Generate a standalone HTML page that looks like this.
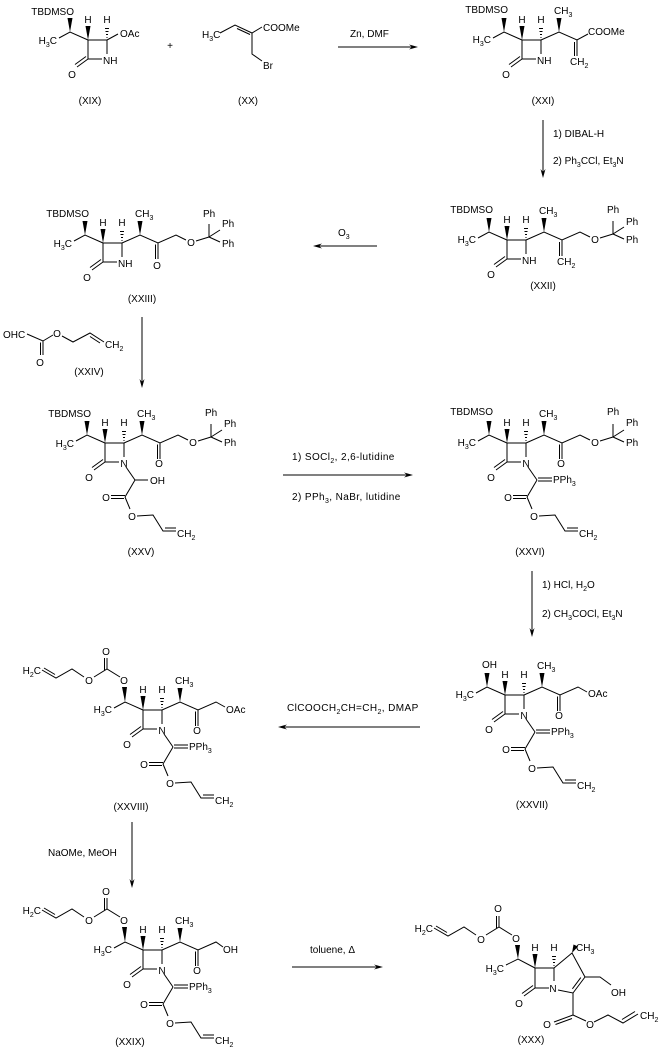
<!DOCTYPE html>
<html><head><meta charset="utf-8"><style>
html,body{margin:0;padding:0;background:#fff;}
svg{display:block;}
text{font-family:"Liberation Sans",Arial,sans-serif;font-size:10px;fill:#000;}
.s{font-size:7px;}
.w{letter-spacing:0.4px;}
path{stroke:#000;stroke-width:1;fill:none;}
polygon{fill:#000;stroke:none;}
</style></head><body>
<svg width="662" height="1052" viewBox="0 0 662 1052" xmlns="http://www.w3.org/2000/svg">

<!-- ===== XIX ===== -->
<g transform="translate(88,40)">
<path d="M0 0H19V14M14 19H0V0M0 19L-11 27M-2 16.5L-13 24.5M0 0L-18 -8L-29 -2M19 0L30 -6"/>
<path d="M18.5 -2.5H19.5M18 -5.5H20M17.5 -8.5H20.5M17 -11.5H21"/>
<polygon points="-18,-8 -20.5,-22 -15.5,-22"/>
<polygon points="0,0 -2.5,-14 2.5,-14"/>
<text x="-16" y="38" text-anchor="middle">O</text>
<text x="15" y="24">NH</text>
<text x="-14" y="-25" text-anchor="end">TBDMSO</text>
<text x="-31" y="4" text-anchor="end">H<tspan class="s" dy="3">3</tspan><tspan dy="-3">C</tspan></text>
<text x="0" y="-17" text-anchor="middle">H</text>
<text x="19" y="-17" text-anchor="middle">H</text>
<text x="32" y="-3">OAc</text>
</g>
<text x="90" y="104" text-anchor="middle">(XIX)</text>
<text x="170" y="49" text-anchor="middle">+</text>

<!-- ===== XX ===== -->
<path d="M220 33L235 25L252 33L262 27M237 28.5L250 34.5M252 33V54L262 61"/>
<text x="202" y="38">H<tspan class="s" dy="3">3</tspan><tspan dy="-3">C</tspan></text>
<text x="263" y="31">COOMe</text>
<text x="263" y="69">Br</text>
<text x="248" y="104" text-anchor="middle">(XX)</text>

<!-- arrow Zn DMF -->
<path d="M338 47H412"/>
<polygon points="418,47 409,44.5 412,47 409,49.5"/>
<text x="350" y="37">Zn, DMF</text>

<!-- ===== XXI ===== -->
<g transform="translate(522,40)">
<path d="M0 0H19V14M14 19H0V0M0 19L-11 27M-2 16.5L-13 24.5M0 0L-18 -8L-29 -2"/>
<path d="M18.5 -2.5H19.5M18 -5.5H20M17.5 -8.5H20.5M17 -11.5H21"/>
<path d="M19 0L37 -8L55 0L66 -6M55 0V16M52.5 2V16"/>
<polygon points="-18,-8 -20.5,-22 -15.5,-22"/>
<polygon points="0,0 -2.5,-14 2.5,-14"/>
<polygon points="37,-8 34.5,-22 39.5,-22"/>
<text x="-16" y="38" text-anchor="middle">O</text>
<text x="15" y="24">NH</text>
<text x="-14" y="-27" text-anchor="end">TBDMSO</text>
<text x="-31" y="3" text-anchor="end">H<tspan class="s" dy="3">3</tspan><tspan dy="-3">C</tspan></text>
<text x="0" y="-17" text-anchor="middle">H</text>
<text x="19" y="-17" text-anchor="middle">H</text>
<text x="32" y="-26">CH<tspan class="s" dy="3">3</tspan></text>
<text x="48" y="25">CH<tspan class="s" dy="3">2</tspan></text>
<text x="66" y="-5">COOMe</text>
</g>
<text x="543" y="104" text-anchor="middle">(XXI)</text>

<!-- arrow DIBAL -->
<path d="M543 120V172"/>
<polygon points="543,178 540.5,169 543,172 545.5,169"/>
<text x="553" y="137">1) DIBAL-H</text>
<text x="553" y="164">2) Ph<tspan class="s" dy="3">3</tspan><tspan dy="-3">CCl, Et</tspan><tspan class="s" dy="3">3</tspan><tspan dy="-3">N</tspan></text>

<!-- ===== XXII ===== -->
<g transform="translate(507,240)">
<path d="M0 0H19V14M14 19H0V0M0 19L-11 27M-2 16.5L-13 24.5M0 0L-18 -8L-29 -2"/>
<path d="M18.5 -2.5H19.5M18 -5.5H20M17.5 -8.5H20.5M17 -11.5H21"/>
<path d="M19 0L37 -8L55 0L73 -8L83 -3M55 0V16M52.5 2V16M93 -2L106 -6M106 -6V-19M106 -6L117 -13M106 -6L117 -1"/>
<polygon points="-18,-8 -20.5,-22 -15.5,-22"/>
<polygon points="0,0 -2.5,-14 2.5,-14"/>
<polygon points="37,-8 34.5,-22 39.5,-22"/>
<text x="-16" y="38" text-anchor="middle">O</text>
<text x="15" y="24">NH</text>
<text x="-14" y="-27" text-anchor="end">TBDMSO</text>
<text x="-31" y="3" text-anchor="end">H<tspan class="s" dy="3">3</tspan><tspan dy="-3">C</tspan></text>
<text x="0" y="-17" text-anchor="middle">H</text>
<text x="19" y="-17" text-anchor="middle">H</text>
<text x="32" y="-26">CH<tspan class="s" dy="3">3</tspan></text>
<text x="50" y="25">CH<tspan class="s" dy="3">2</tspan></text>
<text x="88" y="3" text-anchor="middle">O</text>
<text x="100" y="-27">Ph</text>
<text x="119" y="-15">Ph</text>
<text x="119" y="3">Ph</text>
</g>
<text x="543" y="289" text-anchor="middle">(XXII)</text>

<!-- arrow O3 -->
<path d="M377 246H319"/>
<polygon points="313,246 322,243.5 319,246 322,248.5"/>
<text x="338" y="236">O<tspan class="s" dy="3">3</tspan></text>

<!-- ===== XXIII ===== -->
<g transform="translate(103,243)">
<path d="M0 0H19V14M14 19H0V0M0 19L-11 27M-2 16.5L-13 24.5M0 0L-18 -8L-29 -2"/>
<path d="M18.5 -2.5H19.5M18 -5.5H20M17.5 -8.5H20.5M17 -11.5H21"/>
<path d="M19 0L37 -8L55 0L73 -8L83 -3M55 0V16M52.5 1.5V16M93 -2L106 -6M106 -6V-19M106 -6L117 -13M106 -6L117 -1"/>
<polygon points="-18,-8 -20.5,-22 -15.5,-22"/>
<polygon points="0,0 -2.5,-14 2.5,-14"/>
<polygon points="37,-8 34.5,-22 39.5,-22"/>
<text x="-16" y="38" text-anchor="middle">O</text>
<text x="15" y="24">NH</text>
<text x="-14" y="-26" text-anchor="end">TBDMSO</text>
<text x="-31" y="4" text-anchor="end">H<tspan class="s" dy="3">3</tspan><tspan dy="-3">C</tspan></text>
<text x="0" y="-17" text-anchor="middle">H</text>
<text x="19" y="-17" text-anchor="middle">H</text>
<text x="32" y="-26">CH<tspan class="s" dy="3">3</tspan></text>
<text x="54" y="26" text-anchor="middle">O</text>
<text x="88" y="3" text-anchor="middle">O</text>
<text x="100" y="-26">Ph</text>
<text x="119" y="-16">Ph</text>
<text x="119" y="4">Ph</text>
</g>
<text x="142" y="302" text-anchor="middle">(XXIII)</text>

<!-- ===== XXIV ===== -->
<path d="M27 334L43 341L53 335M43 341V355M40.5 342.5V355M62 336L73 342L90 333L104 342M90 336.5L100 343"/>
<text x="3" y="338">OHC</text>
<text x="57" y="337" text-anchor="middle">O</text>
<text x="40" y="366" text-anchor="middle">O</text>
<text x="105" y="348">CH<tspan class="s" dy="3">2</tspan></text>
<text x="89" y="375" text-anchor="middle">(XXIV)</text>

<!-- arrow down -->
<path d="M142 317V382"/>
<polygon points="142,388 139.5,379 142,382 144.5,379"/>

<!-- ===== XXV ===== -->
<g transform="translate(105,443)">
<path d="M0 0H19V14M14 19H0V0M0 19L-11 27M-2 16.5L-13 24.5M0 0L-18 -8L-29 -2"/>
<path d="M18.5 -2.5H19.5M18 -5.5H20M17.5 -8.5H20.5M17 -11.5H21"/>
<path d="M19 0L37 -8L55 0L73 -8L83 -3M55 0V16M52.5 1.5V16M93 -2L106 -6M106 -6V-19M106 -6L117 -13M106 -6L117 -1"/>
<path d="M21 24L30 37H43M30 37L20 54M20 52.5H6M19 55.5H6M20 54L25 66M32 73L48 72L58 88H71M60 85H71"/>
<polygon points="-18,-8 -20.5,-22 -15.5,-22"/>
<polygon points="0,0 -2.5,-14 2.5,-14"/>
<polygon points="37,-8 34.5,-22 39.5,-22"/>
<text x="-16" y="38" text-anchor="middle">O</text>
<text x="19" y="24" text-anchor="middle">N</text>
<text x="-14" y="-26" text-anchor="end">TBDMSO</text>
<text x="-31" y="4" text-anchor="end">H<tspan class="s" dy="3">3</tspan><tspan dy="-3">C</tspan></text>
<text x="0" y="-17" text-anchor="middle">H</text>
<text x="19" y="-17" text-anchor="middle">H</text>
<text x="32" y="-26">CH<tspan class="s" dy="3">3</tspan></text>
<text x="54" y="24" text-anchor="middle">O</text>
<text x="88" y="3" text-anchor="middle">O</text>
<text x="100" y="-27">Ph</text>
<text x="119" y="-16">Ph</text>
<text x="119" y="3">Ph</text>
<text x="45" y="41">OH</text>
<text x="1" y="58" text-anchor="middle">O</text>
<text x="27" y="77" text-anchor="middle">O</text>
<text x="72" y="94">CH<tspan class="s" dy="3">2</tspan></text>
</g>
<text x="141" y="555" text-anchor="middle">(XXV)</text>

<!-- arrow SOCl2 -->
<path d="M283 475H407"/>
<polygon points="413,475 404,472.5 407,475 404,477.5"/>
<text x="292" y="460" class="w">1) SOCl<tspan class="s" dy="3">2</tspan><tspan dy="-3">, 2,6-lutidine</tspan></text>
<text x="292" y="500" class="w">2) PPh<tspan class="s" dy="3">3</tspan><tspan dy="-3">, NaBr, lutidine</tspan></text>

<!-- ===== XXVI ===== -->
<g transform="translate(507,443)">
<path d="M0 0H19V14M14 19H0V0M0 19L-11 27M-2 16.5L-13 24.5M0 0L-18 -8L-29 -2"/>
<path d="M18.5 -2.5H19.5M18 -5.5H20M17.5 -8.5H20.5M17 -11.5H21"/>
<path d="M19 0L37 -8L55 0L73 -8L83 -3M55 0V16M52.5 1.5V16M93 -2L106 -6M106 -6V-19M106 -6L117 -13M106 -6L117 -1"/>
<path d="M21 24L30 37M31 35H45M31 38H45M30 37L20 54M20 52.5H6M19 55.5H6M20 54L25 66M32 73L48 72L58 88H71M60 85H71"/>
<polygon points="-18,-8 -20.5,-22 -15.5,-22"/>
<polygon points="0,0 -2.5,-14 2.5,-14"/>
<polygon points="37,-8 34.5,-22 39.5,-22"/>
<text x="-16" y="38" text-anchor="middle">O</text>
<text x="19" y="24" text-anchor="middle">N</text>
<text x="-14" y="-28" text-anchor="end">TBDMSO</text>
<text x="-31" y="3" text-anchor="end">H<tspan class="s" dy="3">3</tspan><tspan dy="-3">C</tspan></text>
<text x="0" y="-17" text-anchor="middle">H</text>
<text x="19" y="-17" text-anchor="middle">H</text>
<text x="32" y="-26">CH<tspan class="s" dy="3">3</tspan></text>
<text x="54" y="24" text-anchor="middle">O</text>
<text x="88" y="3" text-anchor="middle">O</text>
<text x="100" y="-28">Ph</text>
<text x="119" y="-17">Ph</text>
<text x="119" y="3">Ph</text>
<text x="46" y="40">PPh<tspan class="s" dy="3">3</tspan></text>
<text x="1" y="58" text-anchor="middle">O</text>
<text x="27" y="77" text-anchor="middle">O</text>
<text x="72" y="94">CH<tspan class="s" dy="3">2</tspan></text>
</g>
<text x="530" y="555" text-anchor="middle">(XXVI)</text>

<!-- arrow HCl -->
<path d="M532 571V631"/>
<polygon points="532,637 529.5,628 532,631 534.5,628"/>
<text x="542" y="588">1) HCl, H<tspan class="s" dy="3">2</tspan><tspan dy="-3">O</tspan></text>
<text x="542" y="617">2) CH<tspan class="s" dy="3">3</tspan><tspan dy="-3">COCl, Et</tspan><tspan class="s" dy="3">3</tspan><tspan dy="-3">N</tspan></text>

<!-- ===== XXVII ===== -->
<g transform="translate(505,695)">
<path d="M0 0H19V14M14 19H0V0M0 19L-11 27M-2 16.5L-13 24.5M0 0L-18 -8L-29 -2"/>
<path d="M18.5 -2.5H19.5M18 -5.5H20M17.5 -8.5H20.5M17 -11.5H21"/>
<path d="M19 0L37 -8L55 0L73 -8L82 -3M55 0V16M52.5 1.5V16"/>
<path d="M21 24L30 37M31 35H45M31 38H45M30 37L20 54M20 52.5H6M19 55.5H6M20 54L25 66M32 73L48 72L58 88H71M60 85H71"/>
<polygon points="-18,-8 -20.5,-22 -15.5,-22"/>
<polygon points="0,0 -2.5,-14 2.5,-14"/>
<polygon points="37,-8 34.5,-22 39.5,-22"/>
<text x="-16" y="38" text-anchor="middle">O</text>
<text x="19" y="24" text-anchor="middle">N</text>
<text x="-23" y="-27">OH</text>
<text x="-31" y="3" text-anchor="end">H<tspan class="s" dy="3">3</tspan><tspan dy="-3">C</tspan></text>
<text x="0" y="-17" text-anchor="middle">H</text>
<text x="19" y="-17" text-anchor="middle">H</text>
<text x="32" y="-26">CH<tspan class="s" dy="3">3</tspan></text>
<text x="54" y="24" text-anchor="middle">O</text>
<text x="83" y="2">OAc</text>
<text x="46" y="40">PPh<tspan class="s" dy="3">3</tspan></text>
<text x="1" y="58" text-anchor="middle">O</text>
<text x="27" y="77" text-anchor="middle">O</text>
<text x="72" y="94">CH<tspan class="s" dy="3">2</tspan></text>
</g>
<text x="532" y="808" text-anchor="middle">(XXVII)</text>

<!-- arrow ClCOO -->
<path d="M420 727H284"/>
<polygon points="278,727 287,724.5 284,727 287,729.5"/>
<text x="287" y="711" class="w">ClCOOCH<tspan class="s" dy="3">2</tspan><tspan dy="-3">CH=CH</tspan><tspan class="s" dy="3">2</tspan><tspan dy="-3">, DMAP</tspan></text>

<!-- ===== XXVIII ===== -->
<g transform="translate(143,710)">
<path d="M0 0H19V14M14 19H0V0M0 19L-11 27M-2 16.5L-13 24.5M0 0L-18 -8L-29 -2"/>
<path d="M18.5 -2.5H19.5M18 -5.5H20M17.5 -8.5H20.5M17 -11.5H21"/>
<path d="M19 0L37 -8L55 0L73 -8L82 -3M55 0V16M52.5 1.5V16"/>
<path d="M21 24L30 37M31 35H45M31 38H45M30 37L20 54M20 52.5H6M19 55.5H6M20 54L25 66M32 73L48 72L58 88H71M60 85H71"/>
<path d="M-23 -33L-36 -41L-49 -33M-36 -41V-52M-38.5 -40V-52M-59 -33L-71 -41L-87 -32L-101 -40M-88 -35.5L-99 -42"/>
<polygon points="-18,-8 -21,-23 -16,-23"/>
<polygon points="0,0 -2.5,-14 2.5,-14"/>
<polygon points="37,-8 34.5,-22 39.5,-22"/>
<text x="-16" y="38" text-anchor="middle">O</text>
<text x="19" y="24" text-anchor="middle">N</text>
<text x="-19" y="-26" text-anchor="middle">O</text>
<text x="-37" y="-55" text-anchor="middle">O</text>
<text x="-54" y="-26" text-anchor="middle">O</text>
<text x="-102" y="-36" text-anchor="end">H<tspan class="s" dy="3">2</tspan><tspan dy="-3">C</tspan></text>
<text x="-31" y="3" text-anchor="end">H<tspan class="s" dy="3">3</tspan><tspan dy="-3">C</tspan></text>
<text x="0" y="-17" text-anchor="middle">H</text>
<text x="19" y="-17" text-anchor="middle">H</text>
<text x="32" y="-26">CH<tspan class="s" dy="3">3</tspan></text>
<text x="54" y="24" text-anchor="middle">O</text>
<text x="83" y="3">OAc</text>
<text x="46" y="40">PPh<tspan class="s" dy="3">3</tspan></text>
<text x="1" y="58" text-anchor="middle">O</text>
<text x="27" y="77" text-anchor="middle">O</text>
<text x="72" y="94">CH<tspan class="s" dy="3">2</tspan></text>
</g>
<text x="131" y="810" text-anchor="middle">(XXVIII)</text>

<!-- arrow NaOMe -->
<path d="M132 822V882"/>
<polygon points="132,888 129.5,879 132,882 134.5,879"/>
<text x="48" y="856">NaOMe, MeOH</text>

<!-- ===== XXIX ===== -->
<g transform="translate(143,950)">
<path d="M0 0H19V14M14 19H0V0M0 19L-11 27M-2 16.5L-13 24.5M0 0L-18 -8L-29 -2"/>
<path d="M18.5 -2.5H19.5M18 -5.5H20M17.5 -8.5H20.5M17 -11.5H21"/>
<path d="M19 0L37 -8L55 0L73 -8L80 -3M55 0V16M52.5 1.5V16"/>
<path d="M21 24L30 37M31 35H45M31 38H45M30 37L20 54M20 52.5H6M19 55.5H6M20 54L25 66M32 73L48 72L58 88H71M60 85H71"/>
<path d="M-23 -33L-36 -41L-49 -33M-36 -41V-52M-38.5 -40V-52M-59 -33L-71 -41L-87 -32L-101 -40M-88 -35.5L-99 -42"/>
<polygon points="-18,-8 -21,-23 -16,-23"/>
<polygon points="0,0 -2.5,-14 2.5,-14"/>
<polygon points="37,-8 34.5,-22 39.5,-22"/>
<text x="-16" y="38" text-anchor="middle">O</text>
<text x="19" y="24" text-anchor="middle">N</text>
<text x="-19" y="-26" text-anchor="middle">O</text>
<text x="-37" y="-55" text-anchor="middle">O</text>
<text x="-54" y="-26" text-anchor="middle">O</text>
<text x="-102" y="-36" text-anchor="end">H<tspan class="s" dy="3">2</tspan><tspan dy="-3">C</tspan></text>
<text x="-31" y="3" text-anchor="end">H<tspan class="s" dy="3">3</tspan><tspan dy="-3">C</tspan></text>
<text x="0" y="-17" text-anchor="middle">H</text>
<text x="19" y="-17" text-anchor="middle">H</text>
<text x="32" y="-26">CH<tspan class="s" dy="3">3</tspan></text>
<text x="54" y="24" text-anchor="middle">O</text>
<text x="80" y="3">OH</text>
<text x="46" y="40">PPh<tspan class="s" dy="3">3</tspan></text>
<text x="1" y="58" text-anchor="middle">O</text>
<text x="27" y="77" text-anchor="middle">O</text>
<text x="72" y="94">CH<tspan class="s" dy="3">2</tspan></text>
</g>
<text x="130" y="1045" text-anchor="middle">(XXIX)</text>

<!-- arrow toluene -->
<path d="M292 967H377"/>
<polygon points="383,967 374,964.5 377,967 374,969.5"/>
<text x="310" y="953">toluene, Δ</text>

<!-- ===== XXX ===== -->
<g transform="translate(535,968)">
<path d="M0 0H19V13M14 20H0V0M0 20L-11 28M-2 17.5L-13 25.5M0 0L-17 -9L-29 -3"/>
<path d="M18.5 -2.5H19.5M18 -5.5H20M17.5 -8.5H20.5M17 -11.5H21"/>
<path d="M19 0L37 -15L50 9L38 25L23 22M45.8 9.6L37.4 20.8M50 9H65L76 17M38 25V47L19 54M37 50.5L20.5 56.5M38 47L51 53M59 54L73 47L88 55L103 46M87 51.5L100 43.5"/>
<path d="M-23 -33L-36 -41L-49 -33M-36 -41V-52M-38.5 -40V-52M-59 -33L-71 -41L-87 -32L-101 -40M-88 -35.5L-99 -42"/>
<polygon points="-17,-9 -20,-23 -15,-23"/>
<polygon points="0,0 -2.5,-14 2.5,-14"/>
<polygon points="37,-15 38.5,-23.5 43,-21.5"/>
<text x="-16" y="39" text-anchor="middle">O</text>
<text x="18" y="24" text-anchor="middle">N</text>
<text x="-19" y="-26" text-anchor="middle">O</text>
<text x="-37" y="-56" text-anchor="middle">O</text>
<text x="-54" y="-25" text-anchor="middle">O</text>
<text x="-102" y="-36" text-anchor="end">H<tspan class="s" dy="3">2</tspan><tspan dy="-3">C</tspan></text>
<text x="-31" y="4" text-anchor="end">H<tspan class="s" dy="3">3</tspan><tspan dy="-3">C</tspan></text>
<text x="0" y="-17" text-anchor="middle">H</text>
<text x="19" y="-17" text-anchor="middle">H</text>
<text x="41" y="-17">CH<tspan class="s" dy="3">3</tspan></text>
<text x="76" y="28">OH</text>
<text x="12" y="60" text-anchor="middle">O</text>
<text x="55" y="60" text-anchor="middle">O</text>
<text x="105" y="51">CH<tspan class="s" dy="3">2</tspan></text>
</g>
<text x="531" y="1043" text-anchor="middle">(XXX)</text>

</svg>
</body></html>
